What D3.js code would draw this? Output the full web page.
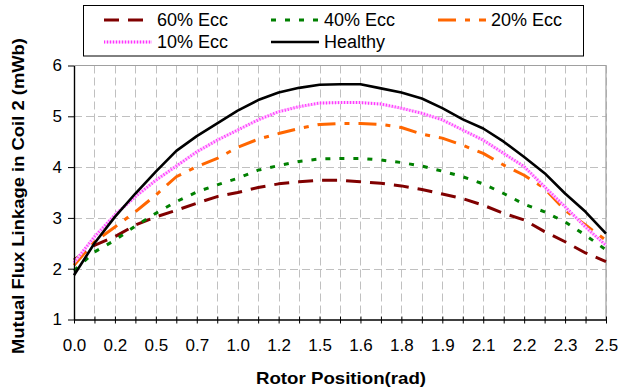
<!DOCTYPE html>
<html>
<head>
<meta charset="utf-8">
<script src="https://cdn.jsdelivr.net/npm/d3@7"></script>
<style>
  html, body { margin: 0; padding: 0; background: #fff; }
  svg { display: block; font-family: Arial, "Liberation Sans", sans-serif; }
</style>
</head>
<body>
<svg id="chart" width="618" height="389"></svg>
<script>
// Rotor-position labels, shown on every second sample
const tickLabels = ["0.0", "0.2", "0.5", "0.7", "1.0", "1.2", "1.5", "1.6", "1.8", "1.9", "2.1", "2.2", "2.3", "2.5"];

// Mutual flux linkage in coil 2 (mWb), one value per sample position
const ecc60 = [2.17, 2.46, 2.63, 2.86, 3.02, 3.15, 3.29, 3.42, 3.50, 3.60, 3.67, 3.71, 3.74, 3.74,
               3.71, 3.68, 3.63, 3.56, 3.47, 3.38, 3.25, 3.09, 2.96, 2.73, 2.53, 2.31, 2.14];
const ecc40 = [1.96, 2.33, 2.56, 2.84, 3.09, 3.32, 3.51, 3.65, 3.78, 3.94, 4.03, 4.11, 4.16, 4.17,
               4.17, 4.14, 4.09, 4.02, 3.92, 3.81, 3.67, 3.48, 3.27, 3.12, 2.92, 2.66, 2.37];
const ecc20 = [2.07, 2.53, 2.82, 3.12, 3.45, 3.81, 4.01, 4.17, 4.39, 4.55, 4.66, 4.76, 4.84, 4.86,
               4.86, 4.84, 4.78, 4.65, 4.57, 4.43, 4.27, 4.04, 3.84, 3.58, 3.15, 2.86, 2.56];
const ecc10 = [2.12, 2.63, 3.06, 3.42, 3.74, 4.02, 4.30, 4.53, 4.73, 4.93, 5.09, 5.19, 5.26, 5.27,
               5.27, 5.24, 5.16, 5.06, 4.93, 4.73, 4.53, 4.27, 4.01, 3.61, 3.22, 2.82, 2.46];
const healthy = [1.87, 2.50, 3.02, 3.48, 3.91, 4.32, 4.61, 4.86, 5.11, 5.32, 5.47, 5.56, 5.62, 5.63,
                 5.63, 5.55, 5.47, 5.35, 5.16, 4.94, 4.76, 4.50, 4.20, 3.88, 3.48, 3.12, 2.69];

const seriesNames = ["60% Ecc", "40% Ecc", "20% Ecc", "10% Ecc", "Healthy"];
const seriesValues = [ecc60, ecc40, ecc20, ecc10, healthy];
const yTicks = [1, 2, 3, 4, 5, 6];

const styles = [
  { color: "#800000", width: 3, dash: "15,9" },
  { color: "#008000", width: 3, dash: "5,9" },
  { color: "#ff6600", width: 3, dash: "18,9,5,9" },
  { color: "#ff33ff", width: 3, dash: "1,2", under: "#ffc4ff" },
  { color: "#000000", width: 2.6, dash: null }
];

const svg = d3.select("#chart");
const plotL = 74, plotR = 606, plotT = 65.5, plotB = 319.5;

const n = healthy.length;
const x = d3.scaleLinear().domain([0, n - 1]).range([plotL, plotR]);
const y = d3.scaleLinear().domain([1, 6]).range([plotB, plotT]);

// gridlines
const grid = svg.append("g").attr("stroke", "#c0c0c0").attr("stroke-width", 1)
  .attr("stroke-dasharray", "8,4");
grid.selectAll("line.v").data(d3.range(1, n)).join("line")
  .attr("x1", d => Math.round(x(d)) + 0.5).attr("x2", d => Math.round(x(d)) + 0.5)
  .attr("y1", plotT).attr("y2", plotB);
grid.selectAll("line.h").data(yTicks.slice(1, -1)).join("line")
  .attr("x1", plotL).attr("x2", plotR)
  .attr("y1", d => Math.round(y(d)) + 0.5).attr("y2", d => Math.round(y(d)) + 0.5);

// plot-area frame (top and right edges)
svg.append("path")
  .attr("d", `M${plotL},${plotT}H${plotR}V${plotB}`)
  .attr("fill", "none").attr("stroke", "#a0a0a0").attr("stroke-width", 1.2);

// series
const line = d3.line().x((d, i) => x(i)).y(d => y(d));
seriesValues.forEach((vals, k) => {
  const s = styles[k];
  if (s.under) {
    svg.append("path").datum(vals).attr("d", line)
      .attr("fill", "none").attr("stroke", s.under).attr("stroke-width", s.width);
  }
  svg.append("path").datum(vals).attr("d", line)
    .attr("fill", "none").attr("stroke", s.color).attr("stroke-width", s.width)
    .attr("stroke-dasharray", s.dash).attr("stroke-linejoin", "round");
});

// axes
const xAxis = d3.axisBottom(x).tickValues(d3.range(n))
  .tickFormat(i => i % 2 === 0 ? tickLabels[i / 2] : "")
  .tickSizeInner(5).tickSizeOuter(0).tickPadding(14);
const gx = svg.append("g").attr("transform", `translate(0,${plotB})`).call(xAxis);
gx.select(".domain").attr("stroke", "#000").attr("stroke-width", 1.4);
gx.selectAll(".tick line").attr("y1", -3).attr("y2", 4).attr("stroke", "#000");
gx.selectAll("text").attr("font-size", 17).attr("fill", "#000")
  .attr("font-family", "Arial, 'Liberation Sans', sans-serif");

const yAxis = d3.axisLeft(y).tickValues(yTicks).tickFormat(d3.format("d"))
  .tickSizeInner(6).tickSizeOuter(0).tickPadding(6);
const gy = svg.append("g").attr("transform", `translate(${plotL},0)`).call(yAxis);
gy.select(".domain").attr("stroke", "#000").attr("stroke-width", 1.4);
gy.selectAll(".tick line").attr("stroke", "#000");
gy.selectAll("text").attr("font-size", 17).attr("fill", "#000")
  .attr("font-family", "Arial, 'Liberation Sans', sans-serif");

// axis titles
svg.append("text").attr("x", 341).attr("y", 384)
  .attr("text-anchor", "middle").attr("font-size", 16.5).attr("font-weight", "bold")
  .attr("textLength", 170).attr("lengthAdjust", "spacingAndGlyphs")
  .text("Rotor Position(rad)");
svg.append("text")
  .attr("transform", "translate(24,196) rotate(-90)")
  .attr("text-anchor", "middle").attr("font-size", 16).attr("font-weight", "bold")
  .attr("textLength", 316).attr("lengthAdjust", "spacingAndGlyphs")
  .text("Mutual Flux Linkage in Coil 2 (mWb)");

// legend
const lg = svg.append("g");
lg.append("rect").attr("x", 83.5).attr("y", 5.5).attr("width", 500).attr("height", 50.5)
  .attr("fill", "#fff").attr("stroke", "#000").attr("stroke-width", 1);
const legendPos = [
  { x: 104, y: 20 }, { x: 271, y: 20 }, { x: 438, y: 20 },
  { x: 104, y: 42 }, { x: 271, y: 42 }
];
seriesNames.forEach((name, k) => {
  const p = legendPos[k], s = styles[k];
  if (s.under) {
    lg.append("line").attr("x1", p.x).attr("x2", p.x + 48).attr("y1", p.y).attr("y2", p.y)
      .attr("stroke", s.under).attr("stroke-width", s.width);
  }
  lg.append("line").attr("x1", p.x).attr("x2", p.x + 48).attr("y1", p.y).attr("y2", p.y)
    .attr("stroke", s.color).attr("stroke-width", s.width).attr("stroke-dasharray", s.dash);
  lg.append("text").attr("x", p.x + 53).attr("y", p.y).attr("dy", "0.36em")
    .attr("font-size", 18).text(name);
});
</script>
</body>
</html>
